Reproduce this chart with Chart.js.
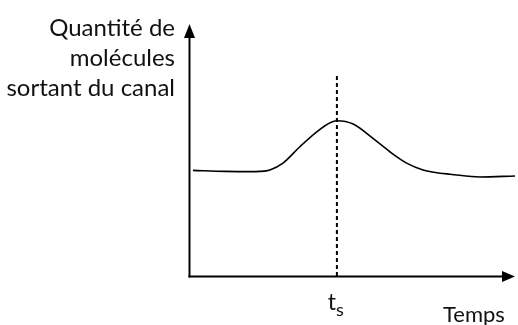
<!DOCTYPE html>
<html>
<head>
<meta charset="utf-8">
<script src="https://cdn.jsdelivr.net/npm/chart.js@4"></script>
<style>
  body { margin: 0; background: #fff; }
  canvas { display: block; }
</style>
</head>
<body>
<canvas id="chart" width="518" height="325"></canvas>
<script>
// curve (time in arbitrary units, quantity 0..100)
const temps = [0.09, 1.08, 1.85, 2.15, 2.46, 2.86, 3.38, 3.91, 4.31, 4.52, 5.02, 5.63, 6.15, 6.68, 7.17, 7.69, 8.0, 8.92, 10];
const quantite = [41.9, 41.5, 41.4, 41.5, 42.1, 44.8, 51.3, 57.3, 60.8, 61.6, 60.3, 54.6, 49.3, 44.7, 42.1, 40.8, 40.4, 39.3, 39.7];
const ts = 4.52;
const tsTop = 80.5;
const yLabel = ["Quantité de", "molécules", "sortant du canal"];
const xLabel = "Temps";

const font = "Lato, 'Open Sans', sans-serif";

let points = [];
for (let i = 0; i < temps.length; i++) {
    points.push({ x: temps[i], y: quantite[i] });
}

const axesPlugin = {
    id: 'axes',
    afterDraw(chart) {
        let ctx = chart.ctx;
        let a = chart.chartArea;
        let x0 = a.left - 0.5, y0 = a.bottom + 0.5;
        ctx.save();
        ctx.strokeStyle = '#000';
        ctx.fillStyle = '#000';
        ctx.lineWidth = 2;
        // y axis
        ctx.beginPath();
        ctx.moveTo(x0, y0 + 1);
        ctx.lineTo(x0, a.top + 12);
        ctx.stroke();
        ctx.beginPath();
        ctx.moveTo(x0, a.top);
        ctx.lineTo(x0 - 5.5, a.top + 14);
        ctx.lineTo(x0 + 5.5, a.top + 14);
        ctx.closePath();
        ctx.fill();
        // x axis
        ctx.beginPath();
        ctx.moveTo(x0 - 1, y0);
        ctx.lineTo(a.right - 12, y0);
        ctx.stroke();
        ctx.beginPath();
        ctx.moveTo(a.right, y0);
        ctx.lineTo(a.right - 13, y0 - 5.5);
        ctx.lineTo(a.right - 13, y0 + 5.5);
        ctx.closePath();
        ctx.fill();

        // labels
        ctx.fillStyle = '#111';
        ctx.font = '24px ' + font;
        ctx.textAlign = 'right';
        ctx.textBaseline = 'alphabetic';
        for (let i = 0; i < yLabel.length; i++) {
            ctx.fillText(yLabel[i], a.left - 15, 36 + i * 30);
        }
        ctx.font = '22px ' + font;
        ctx.textAlign = 'left';
        ctx.fillText(xLabel, 443, 322);

        let xs = chart.scales.x.getPixelForValue(ts);
        ctx.font = '23px ' + font;
        ctx.textAlign = 'right';
        ctx.fillText('t', xs - 1, 310);
        ctx.font = '18px ' + font;
        ctx.textAlign = 'left';
        ctx.fillText('s', xs - 1, 316);
        ctx.restore();
    }
};

new Chart(document.getElementById("chart"), {
    type: 'line',
    data: {
        datasets: [{
            data: points,
            borderColor: '#000',
            borderWidth: 1.6,
            pointRadius: 0,
            cubicInterpolationMode: 'monotone',
            fill: false
        }, {
            data: [{ x: ts, y: 0 }, { x: ts, y: tsTop }],
            borderColor: '#000',
            borderWidth: 2,
            borderDash: [4, 3],
            pointRadius: 0,
            fill: false
        }]
    },
    options: {
        responsive: false,
        animation: false,
        layout: { padding: { left: 190, right: 3, top: 24, bottom: 49 } },
        plugins: {
            legend: { display: false },
            tooltip: { enabled: false }
        },
        scales: {
            x: { type: 'linear', min: 0, max: 10, display: false },
            y: { min: 0, max: 100, display: false }
        }
    },
    plugins: [axesPlugin]
});
</script>
</body>
</html>
